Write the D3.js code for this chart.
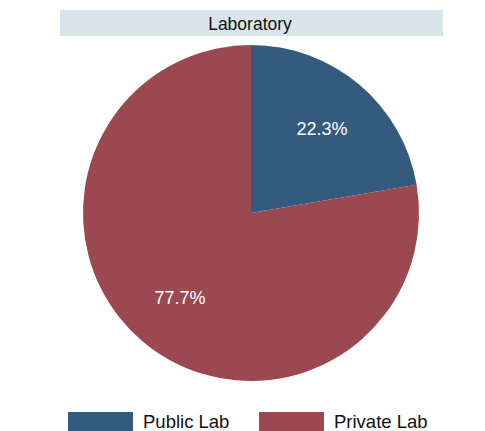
<!DOCTYPE html>
<html>
<head>
<meta charset="utf-8">
<script src="https://cdn.jsdelivr.net/npm/d3@7"></script>
<style>
html,body{margin:0;padding:0;background:#fff;}
svg{display:block;font-family:"Liberation Sans",Arial,sans-serif;}
</style>
</head>
<body>
<svg id="chart" width="485" height="431"></svg>
<script>
const title = "Laboratory";
const categories = ["Public Lab", "Private Lab"];
const values = [22.3, 77.7];
const colors = ["#345a7e", "#9b4850"];

const svg = d3.select("#chart");
const W = 485, H = 431;

// title bar
svg.append("rect").attr("x", 60).attr("y", 10).attr("width", 383).attr("height", 26)
  .attr("fill", "#d9e5eb");
svg.append("text").attr("x", 250).attr("y", 30).attr("text-anchor", "middle")
  .attr("font-size", 17.5).attr("fill", "#111").text(title);

const cx = 251, cy = 213, R = 168;
const pie = d3.pie().sort(null).value(d => d.v);
const arcs = pie(categories.map((c, i) => ({c, v: values[i], col: colors[i]})));
const arc = d3.arc().innerRadius(0).outerRadius(R);
const labelArc = d3.arc().innerRadius(110).outerRadius(110);

const g = svg.append("g").attr("transform", `translate(${cx},${cy})`);
g.selectAll("path").data(arcs).join("path")
  .attr("d", arc).attr("fill", d => d.data.col);
g.selectAll("text").data(arcs).join("text")
  .attr("transform", d => `translate(${labelArc.centroid(d)})`)
  .attr("text-anchor", "middle").attr("dy", "0.36em")
  .attr("font-size", 18).attr("fill", "#fff")
  .text(d => d.data.v.toFixed(1) + "%");

// legend
const legX = [68, 259];
const lg = svg.append("g");
categories.forEach((c, i) => {
  lg.append("rect").attr("x", legX[i]).attr("y", 412).attr("width", 65).attr("height", 19)
    .attr("fill", colors[i]);
  lg.append("text").attr("x", legX[i] + 75).attr("y", 428)
    .attr("font-size", 18.5).attr("fill", "#111").text(c);
});
</script>
</body>
</html>
